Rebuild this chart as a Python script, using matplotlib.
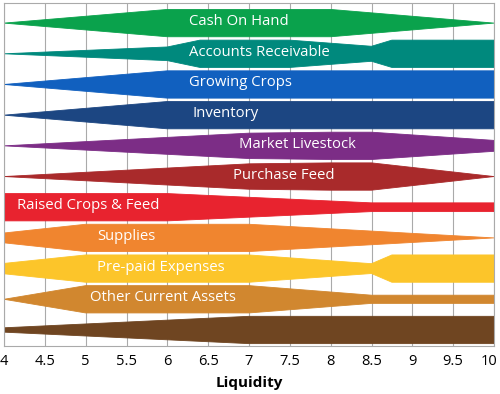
import matplotlib
matplotlib.use("Agg")
from matplotlib import pyplot as plt
from matplotlib import transforms
import numpy as np

plt.rcParams['font.family'] = ['Open Sans', 'DejaVu Sans']

# band names, top to bottom ('' = unlabelled band)
names = ["Cash On Hand", "Accounts Receivable", "Growing Crops", "Inventory",
         "Market Livestock", "Purchase Feed", "Raised Crops & Feed", "Supplies",
         "Pre-paid Expenses", "Other Current Assets", ""]

# width profile of each band: liquidity points and relative width (1 = full)
prof_x = [
    [4, 6, 8, 10],
    [4, 6, 6.4, 7.5, 8.5, 8.75, 10],
    [4, 6, 10],
    [4, 6, 10],
    [4, 7, 8, 8.5, 10],
    [4, 7, 8, 8.5, 10],
    [4, 6, 8.5, 10],
    [4, 5, 7, 10],
    [4, 5, 7, 8.5, 8.75, 10],
    [4, 5, 7, 8.5, 10],
    [4, 7, 10],
]
prof_w = [
    [0, 1, 1, 0],
    [0, 0.5, 1, 1, 0.55, 1, 1],
    [0, 1, 1],
    [0, 1, 1],
    [0, 0.93, 1, 1, 0.4],
    [0, 0.93, 1, 1, 0],
    [1, 1, 0.32, 0.32],
    [0.36, 1, 1, 0],
    [0.38, 1, 1, 0.36, 1, 1],
    [0, 1, 1, 0.3, 0.3],
    [0.16, 1, 1],
]
colors = ["#0AA24C", "#00897D", "#1160BF", "#1C4682", "#7C2D86", "#A92A2B",
          "#E8232F", "#F0852F", "#FCC52A", "#D1872F", "#6F4521"]
label_x = [6.26, 6.26, 6.26, 6.31, 6.88, 6.80, 4.16, 5.14, 5.14, 5.05, None]
ticks = ["4", "4.5", "5", "5.5", "6", "6.5", "7", "7.5", "8", "8.5", "9", "9.5", "10"]

fig = plt.figure(figsize=(5.0, 3.94), dpi=100)
ax = fig.add_axes([0.008, 0.122, 0.98, 0.870])

half = 0.445
for i in range(len(names)):
    xs = np.array(prof_x[i], dtype=float)
    ws = np.array(prof_w[i], dtype=float) * half
    px = np.concatenate([xs, xs[::-1]])
    py = np.concatenate([i - ws, (i + ws)[::-1]])
    ax.fill(px, py, color=colors[i], edgecolor=colors[i], linewidth=0.6, zorder=2)
    if names[i]:
        ax.text(label_x[i], i - 0.05, names[i], color="white", fontsize=10.7,
                ha="left", va="center", zorder=3)

ax.set_xlim(4, 10)
ax.set_ylim(10.52, -0.65)
ax.set_xticks(np.arange(4, 10.01, 0.5))
ax.set_xticklabels(ticks, fontsize=10.5)
ax.set_yticks([])
ax.tick_params(axis="x", length=0, pad=6)
# keep the last label inside the figure
lbl = ax.get_xticklabels()[-1]
lbl.set_transform(lbl.get_transform() + transforms.ScaledTranslation(-5 / 100, 0, fig.dpi_scale_trans))
ax.grid(axis="x", color="#AAAAAA", linewidth=0.8, zorder=0)
ax.set_axisbelow(True)
for s in ax.spines.values():
    s.set_color("#AAAAAA")
    s.set_linewidth(0.8)
ax.set_xlabel("Liquidity", fontsize=11, fontweight="bold", labelpad=5)

fig.savefig("out.png", dpi=100)
